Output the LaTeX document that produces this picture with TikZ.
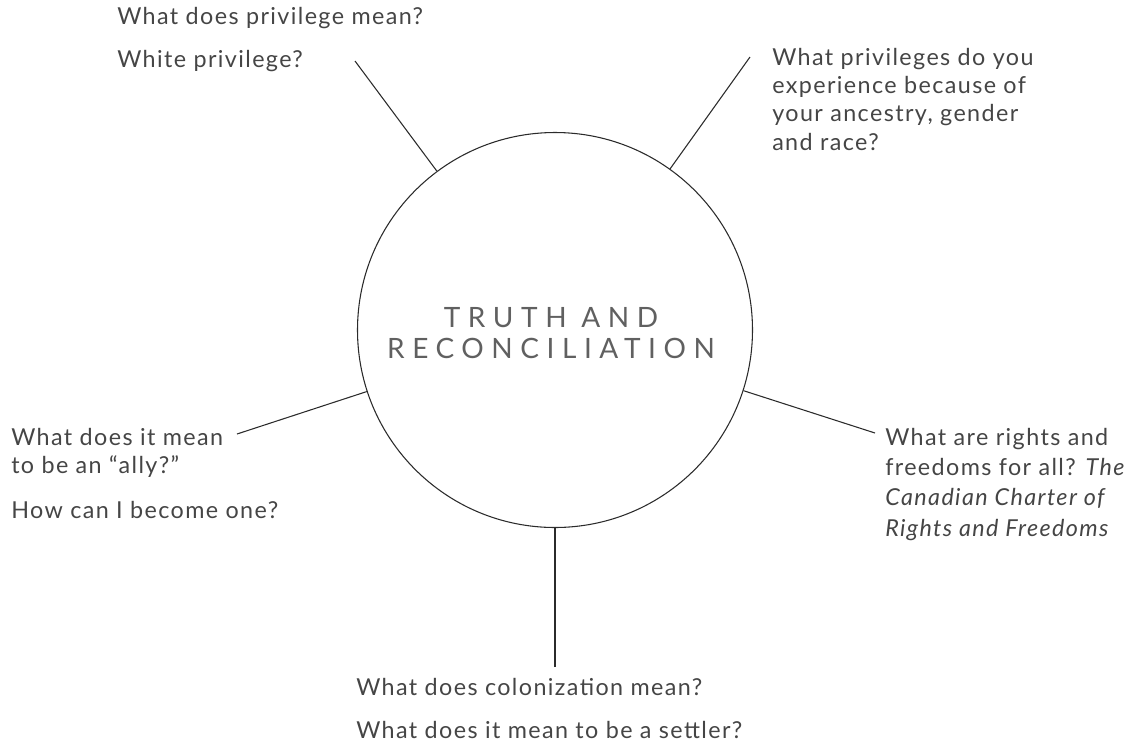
\documentclass[tikz,border=0pt]{standalone}
\usepackage{fontspec}
\usepackage{xcolor}
\setmainfont{Lato}[LetterSpace=6]
\newfontfamily\titlefont{Lato}[LetterSpace=27]
\definecolor{inkgray}{HTML}{454545}
\definecolor{linegray}{HTML}{2B2B2B}
\definecolor{titlegray}{HTML}{606060}
\tikzset{
  hub/.style   = {circle, draw=linegray, line width=0.8pt, minimum size=296.25pt,
                  inner sep=0pt},
  title/.style = {align=center, inner sep=0pt, text=titlegray,
                  font=\titlefont\fontsize{21}{23.25}\selectfont},
  qtext/.style = {anchor=base west, inner sep=0pt, align=left, text=inkgray,
                  font=\fontsize{17.5}{21.2}\selectfont},
  spoke/.style = {draw=linegray, line width=0.8pt}
}

\begin{document}
\begin{tikzpicture}[x=0.75pt, y=-0.75pt]
    \useasboundingbox (0,0) rectangle (1133,744);

    \node[hub] (hub) at (555,330) {};
    \node[title, anchor=base] (title) at (551,358) {TRUTH AND\\RECONCILIATION};

    % questions around the hub (placed at the baseline of their last line)
    \node[qtext] (privilege) at (117,67)  {What does privilege mean?\\[11pt]White privilege?};
    \node[qtext] (ancestry)  at (772,150) {What privileges do you\\experience because of\\your ancestry, gender\\and race?};
    \node[qtext] (ally)      at (11,518)  {What does it mean\\to be an “ally?”\\[12pt]How can I become one?};
    \node[qtext, font=\fontsize{17.5}{22.7}\selectfont]
                             (rights)    at (885,536) {What are rights and\\freedoms for all? \textit{The}\\\textit{Canadian Charter of}\\\textit{Rights and Freedoms}};
    \node[qtext] (settler)   at (356,738) {What does colonization mean?\\[11pt]What does it mean to be a settler?};

    % free ends of the spokes
    \coordinate (privilege-end) at (355,61);
    \coordinate (ancestry-end)  at (750,57);
    \coordinate (ally-end)      at (237,434);
    \coordinate (rights-end)    at (875,433);
    \coordinate (settler-end)   at (555,667);

    \foreach \q in {privilege,ancestry,ally,rights,settler}
      \draw[spoke] (\q-end) -- (hub);
  \end{tikzpicture}
\end{document}
